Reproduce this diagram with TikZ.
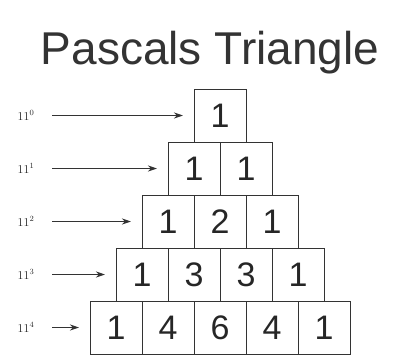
\documentclass[tikz,border=0pt]{standalone}
\usepackage{fontspec}
\setsansfont{Liberation Sans}
\usetikzlibrary{arrows.meta, positioning}

\begin{document}
\begin{tikzpicture}[
		x=1pt, y=-1pt,
		node distance=0pt,
		titleText/.style={font=\sffamily\fontsize{46}{46}\selectfont, text=black!80},
		cellBox/.style={rectangle, draw=black!80, line width=0.9pt, minimum width=52pt, minimum height=53pt, inner sep=0pt, outer sep=0pt, font=\sffamily\fontsize{34}{34}\selectfont, text=black!85},
		powLabel/.style={font=\fontsize{12}{14}\selectfont, text=black!85, inner sep=1pt},
		arrow/.style={-{Stealth[length=9pt, width=6pt]}, line width=1.3pt, draw=black!80, shorten <=17pt, shorten >=11pt}
		]
		\useasboundingbox (0,0) rectangle (404,356);

		% Titulo
		\node[titleText, anchor=base] (title) at (210,64) {Pascals Triangle};

		% Filas del triangulo
		\node[cellBox] (r0c1) at (220,115.5) {1};

		\node[cellBox, below=of r0c1.south west] (r1c1) {1};
		\node[cellBox, right=of r1c1] (r1c2) {1};

		\node[cellBox, below=of r1c1.south west] (r2c1) {1};
		\node[cellBox, right=of r2c1] (r2c2) {2};
		\node[cellBox, right=of r2c2] (r2c3) {1};

		\node[cellBox, below=of r2c1.south west] (r3c1) {1};
		\node[cellBox, right=of r3c1] (r3c2) {3};
		\node[cellBox, right=of r3c2] (r3c3) {3};
		\node[cellBox, right=of r3c3] (r3c4) {1};

		\node[cellBox, below=of r3c1.south west] (r4c1) {1};
		\node[cellBox, right=of r4c1] (r4c2) {4};
		\node[cellBox, right=of r4c2] (r4c3) {6};
		\node[cellBox, right=of r4c3] (r4c4) {4};
		\node[cellBox, right=of r4c4] (r4c5) {1};

		% Potencias de 11
		\node[powLabel] (p0) at (26,115.5) {11$^0$};
		\node[powLabel] (p1) at (26,168.5) {11$^1$};
		\node[powLabel] (p2) at (26,221.5) {11$^2$};
		\node[powLabel] (p3) at (26,274.5) {11$^3$};
		\node[powLabel] (p4) at (26,327.5) {11$^4$};

		% Flechas
		\draw[arrow] (p0) -- (r0c1);
		\draw[arrow] (p1) -- (r1c1);
		\draw[arrow] (p2) -- (r2c1);
		\draw[arrow] (p3) -- (r3c1);
		\draw[arrow] (p4) -- (r4c1);

	\end{tikzpicture}
\end{document}
